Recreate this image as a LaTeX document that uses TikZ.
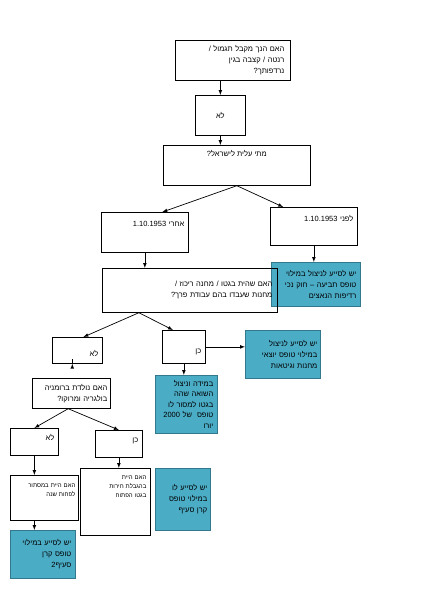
\documentclass[tikz,border=0pt]{standalone}
\usepackage{fontspec}
\newfontfamily\hebfont[Script=Hebrew]{Liberation Sans}
\TeXXeTstate=1
\usetikzlibrary{arrows,calc}
\newcommand{\heb}[1]{\beginR #1\endR}
\newcommand{\ltrnum}[1]{\beginL #1\endL{}}
\definecolor{bluebox}{RGB}{75,172,198}
\definecolor{blueline}{RGB}{52,120,142}

\tikzset{
  qbox/.style={draw, line width=0.7pt, anchor=north west, inner sep=3pt,
    font=\hebfont\fontsize{7.5}{11}\selectfont},
  ansbox/.style={qbox, fill=bluebox, draw=blueline},
  arr/.style={-latex, line width=0.7pt},
}

\begin{document}
\begin{tikzpicture}[x=1pt,y=-1pt]
  \useasboundingbox[fill=white] (0,0) rectangle (424,600);

  \node[qbox, minimum width=115pt, minimum height=40pt, text width=103pt, align=right] (tagmul) at (175,40)
    {\heb{האם הנך מקבל תגמול /}\\ \heb{רנטה / קצבה בגין}\\ \heb{נרדפותך?}};
  \node[qbox, minimum width=50pt, minimum height=40pt] (lo1) at (195,95) {\heb{לא}};
  \node[qbox, minimum width=147pt, minimum height=40pt, text height=7pt, text depth=25pt] (aliya) at (163,145)
    {\heb{מתי עלית לישראל?}};

  \node[qbox, minimum width=87pt, minimum height=40pt, text width=79pt, align=right, text height=7pt, text depth=18pt] (after) at (101,212)
    {\heb{אחרי \ltrnum{1.10.1953}}};
  \node[qbox, minimum width=87pt, minimum height=38pt, text width=79pt, align=right, text height=7pt, text depth=16pt] (before) at (270,207)
    {\heb{לפני \ltrnum{1.10.1953}}};
  \node[ansbox, minimum width=89pt, minimum height=44pt, text width=81pt, align=right] (tviah) at (271,262)
    {\heb{יש לסייע לניצול במילוי}\\ \heb{טופס תביעה – חוק נכי}\\ \heb{רדיפות הנאצים}};

  \node[qbox, minimum width=175pt, minimum height=44pt, text width=165pt, align=right] (ghetto) at (102,268)
    {\heb{האם שהית בגטו / מחנה ריכוז /}\\ \heb{מחנות שעבדו בהם עבודת פרך?}};
  \coordinate (split) at ($(ghetto.south west)!0.21!(ghetto.south east)$);

  \node[qbox, minimum width=50pt, minimum height=26pt, text width=42pt, align=right, text height=14pt, text depth=1pt] (lo2) at (52,337)
    {\heb{לא}};
  \node[qbox, minimum width=43pt, minimum height=33pt, text width=35pt, align=right, text height=14pt, text depth=1pt] (ken1) at (162,330)
    {\heb{כן}};
  \node[ansbox, minimum width=75pt, minimum height=48pt, text width=69pt, align=right] (mahanot) at (245,330)
    {\heb{יש לסייע לניצול}\\ \heb{במילוי טופס יוצאי}\\ \heb{מחנות וגיטאות}};
  \node[ansbox, minimum width=62pt, minimum height=58pt, text width=54pt, align=right, font=\hebfont\fontsize{7.5}{10.5}\selectfont] (euro) at (155,375)
    {\heb{במידה וניצול}\\ \heb{השואה שהה}\\ \heb{בגטו למסור לו}\\ \heb{טופס\ \ של \ltrnum{2000}}\\ \heb{יורו}};

  \node[qbox, minimum width=76pt, minimum height=30pt, text width=72pt, align=right] (born) at (32,378)
    {\heb{האם נולדת ברומניה}\\ \heb{בולגריה ומרוקו?}};
  \node[qbox, minimum width=48pt, minimum height=27pt, text width=40pt, align=right, text height=7pt, text depth=10pt] (lo3) at (10,428)
    {\heb{לא}};
  \node[qbox, minimum width=47pt, minimum height=27pt, text width=39pt, align=right, text height=7pt, text depth=10pt] (ken2) at (95,430)
    {\heb{כן}};
  \node[qbox, minimum width=68pt, minimum height=45pt, text width=62pt, align=right, font=\hebfont\fontsize{6}{9}\selectfont] (mistor) at (10,475)
    {\heb{האם היית במסתור}\\ \heb{לפחות שנה}\\[6pt]\mbox{}};
  \node[qbox, minimum width=70pt, minimum height=67pt, text width=62pt, align=right, font=\hebfont\fontsize{6}{9}\selectfont] (herut) at (80,468)
    {\heb{האם היית}\\ \heb{בהגבלת חירות}\\ \heb{בגטו הפתוח}\\[22pt]\mbox{}};
  \node[ansbox, minimum width=65pt, minimum height=48pt, text width=57pt, align=right] (seif2) at (10,530)
    {\heb{יש לסייע במילוי}\\ \heb{טופס קרן}\\ \heb{סעיף2}};
  \node[ansbox, minimum width=55pt, minimum height=62pt, text width=49pt, align=right] (seif) at (155,468)
    {\heb{יש לסייע לו}\\ \heb{במילוי טופס}\\ \heb{קרן סעיף}};

  % connectors
  \draw[arr] (lo1.north |- tagmul.south) -- (lo1.north);
  \draw[arr] (lo1.south) -- (lo1.south |- aliya.north);
  \draw[arr] (aliya.south) -- ($(after.north west)!0.7!(after.north east)$);
  \draw[arr] (aliya.south) -- ($(before.north west)!0.15!(before.north east)$);
  \draw[arr] (before.south) -- (before.south |- tviah.north);
  \draw[arr] (after.south) -- (after.south |- ghetto.north);
  \draw[arr] (split) -- ($(lo2.north west)!0.62!(lo2.north east)$);
  \draw[arr] (split) -- ($(ken1.north west)!0.25!(ken1.north east)$);
  \draw[arr] (ken1.east) -- (ken1.east -| mahanot.west);
  \draw[arr] (ken1.south) -- (ken1.south |- euro.north);
  \draw[arr] ($(lo2.south west)!0.4!(lo2.south east)$) -- ($(lo2.south west)!0.4!(lo2.south east)$ |- born.north);
  \draw[arr] ($(born.south west)!0.46!(born.south east)$) -- (lo3.north);
  \draw[arr] ($(born.south west)!0.46!(born.south east)$) -- ($(ken2.north west)!0.5!(ken2.north east)$);
  \draw[arr] (lo3.south) -- (lo3.south |- mistor.north);
  \draw[arr] (ken2.south) -- (ken2.south |- herut.north);
  \draw[arr] (lo3.south |- mistor.south) -- (lo3.south |- seif2.north);
\end{tikzpicture}
\end{document}
